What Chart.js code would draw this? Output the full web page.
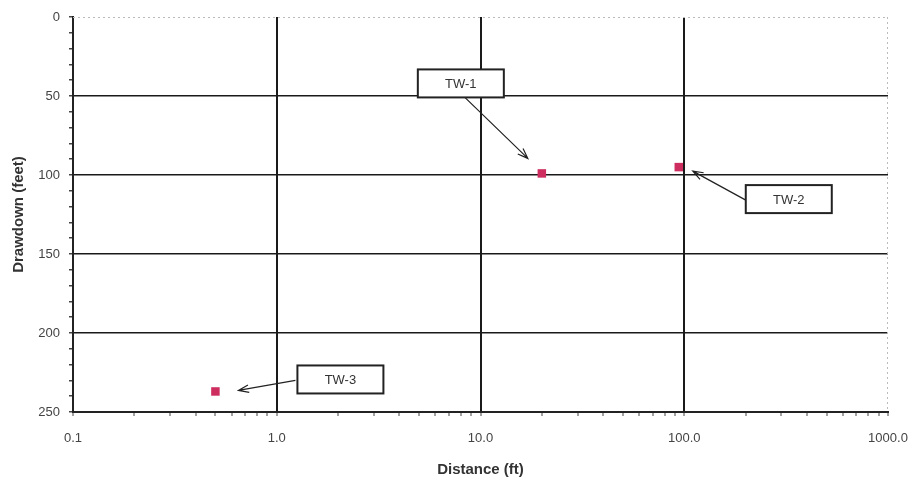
<!DOCTYPE html>
<html>
<head>
<meta charset="utf-8">
<script src="https://cdn.jsdelivr.net/npm/chart.js@4.4.0/dist/chart.umd.min.js"></script>
<style>
  html, body { margin: 0; padding: 0; background: #fff; }
  #wrap { width: 912px; height: 485px; }
</style>
</head>
<body>
<div id="wrap"><canvas id="chart" width="912" height="485"></canvas></div>
<script>
// well data
var wellNames = ['TW-1', 'TW-2', 'TW-3'];
var distances = [20, 94, 0.5];
var drawdowns = [99, 95, 237];

var xTickValues = [0.1, 1, 10, 100, 1000];
var yTickValues = [0, 50, 100, 150, 200, 250];

// callout box placement, offsets in px from the point
var callouts = [
    { box: [-81, -90], from: [4, 14], tip: [-14, -15] },
    { box: [110, 32], from: [-43, 1], tip: [14, 4] },
    { box: [125, -12], from: [-45, 1], tip: [23, -1] }
];

var pts = distances.map(function (d, i) {
    return { x: d, y: drawdowns[i] };
});

function isDecade(v) {
    var l = Math.log10(v);
    return Math.abs(l - Math.round(l)) < 1e-9;
}

var calloutPlugin = {
    id: 'callouts',
    afterDatasetsDraw: function (chart) {
        var ctx = chart.ctx;
        var xs = chart.scales.x, ys = chart.scales.y;
        var area = chart.chartArea;

        // dotted top / right frame
        ctx.save();
        ctx.strokeStyle = '#bbb';
        ctx.lineWidth = 1;
        ctx.setLineDash([2, 3]);
        ctx.beginPath();
        ctx.moveTo(area.left, area.top + 0.5);
        ctx.lineTo(area.right, area.top + 0.5);
        ctx.moveTo(area.right - 0.5, area.top);
        ctx.lineTo(area.right - 0.5, area.bottom);
        ctx.stroke();
        ctx.restore();

        ctx.save();
        ctx.font = '13px "Liberation Sans", Arial, sans-serif';
        ctx.textAlign = 'center';
        ctx.textBaseline = 'middle';
        wellNames.forEach(function (name, i) {
            var c = callouts[i];
            var px = xs.getPixelForValue(distances[i]);
            var py = ys.getPixelForValue(drawdowns[i]);
            var bx = px + c.box[0], by = py + c.box[1];
            var w = 86, h = 28;

            // arrow
            var sx = bx + c.from[0], sy = by + c.from[1];
            var tx = px + c.tip[0], ty = py + c.tip[1];
            ctx.strokeStyle = '#222';
            ctx.lineWidth = 1.2;
            ctx.beginPath();
            ctx.moveTo(sx, sy);
            ctx.lineTo(tx, ty);
            var a = Math.atan2(ty - sy, tx - sx);
            var L = 11;
            ctx.moveTo(tx - L * Math.cos(a - 0.35), ty - L * Math.sin(a - 0.35));
            ctx.lineTo(tx, ty);
            ctx.lineTo(tx - L * Math.cos(a + 0.35), ty - L * Math.sin(a + 0.35));
            ctx.stroke();

            // box
            ctx.fillStyle = '#fff';
            ctx.fillRect(bx - w / 2, by - h / 2, w, h);
            ctx.lineWidth = 2;
            ctx.strokeStyle = '#222';
            ctx.strokeRect(bx - w / 2, by - h / 2, w, h);
            ctx.fillStyle = '#333';
            ctx.fillText(name, bx, by + 1);
        });
        ctx.restore();
    }
};

var ctx = document.getElementById('chart').getContext('2d');
var chart = new Chart(ctx, {
    type: 'scatter',
    data: {
        datasets: [{
            label: 'Drawdown',
            data: pts,
            pointStyle: 'rect',
            pointRadius: 6,
            pointHoverRadius: 6,
            backgroundColor: 'rgb(205, 45, 95)',
            borderColor: 'rgb(205, 45, 95)',
            borderWidth: 0
        }]
    },
    options: {
        responsive: false,
        animation: false,
        layout: { padding: { left: 0, right: 24, top: 17, bottom: 0 } },
        plugins: {
            legend: { display: false },
            tooltip: { enabled: false }
        },
        scales: {
            x: {
                type: 'logarithmic',
                min: 0.1,
                max: 1000,
                afterBuildTicks: function (scale) {
                    var t = [];
                    for (var e = -1; e < 3; e++) {
                        for (var m = 1; m < 10; m++) t.push({ value: m * Math.pow(10, e) });
                    }
                    t.push({ value: 1000 });
                    scale.ticks = t;
                },
                ticks: {
                    autoSkip: false,
                    maxRotation: 0,
                    padding: 15,
                    color: '#444',
                    font: { family: '"Liberation Sans", Arial, sans-serif', size: 13 },
                    callback: function (v) {
                        return xTickValues.indexOf(v) >= 0 || isDecade(v) ? Number(v).toFixed(1) : '';
                    }
                },
                grid: {
                    lineWidth: 2,
                    tickLength: 4,
                    tickWidth: 1,
                    tickColor: '#444',
                    color: function (c) {
                        var v = c.tick ? c.tick.value : 0;
                        if (v === 0.1 || v === 1000) return 'rgba(0,0,0,0)';
                        return isDecade(v) ? '#1a1a1a' : 'rgba(0,0,0,0)';
                    }
                },
                border: { display: true, color: '#222', width: 2 },
                title: {
                    display: true,
                    text: 'Distance (ft)',
                    color: '#333',
                    font: { family: '"Liberation Sans", Arial, sans-serif', size: 15, weight: 'bold' },
                    padding: { top: 10, bottom: 6 }
                },
                afterFit: function (s) {
                    s.height = 73;
                    s.paddingLeft = 0;
                    s.paddingRight = 0;
                }
            },
            y: {
                reverse: true,
                min: 0,
                max: 250,
                ticks: {
                    stepSize: 10,
                    autoSkip: false,
                    padding: 9,
                    color: '#444',
                    font: { family: '"Liberation Sans", Arial, sans-serif', size: 13 },
                    callback: function (v) {
                        return yTickValues.indexOf(v) >= 0 ? v : '';
                    }
                },
                grid: {
                    lineWidth: 1.5,
                    tickLength: 4,
                    tickColor: '#444',
                    color: function (c) {
                        var v = c.tick ? c.tick.value : 0;
                        if (v === 0 || v === 250) return 'rgba(0,0,0,0)';
                        return v % 50 === 0 ? '#1a1a1a' : 'rgba(0,0,0,0)';
                    }
                },
                border: { display: true, color: '#222', width: 2 },
                title: {
                    display: true,
                    text: 'Drawdown (feet)',
                    color: '#333',
                    font: { family: '"Liberation Sans", Arial, sans-serif', size: 15, weight: 'bold' },
                    padding: { top: 10, bottom: 4 }
                },
                afterFit: function (s) {
                    s.width = 73;
                    s.paddingTop = 0;
                    s.paddingBottom = 0;
                }
            }
        }
    },
    plugins: [calloutPlugin]
});
</script>
</body>
</html>
